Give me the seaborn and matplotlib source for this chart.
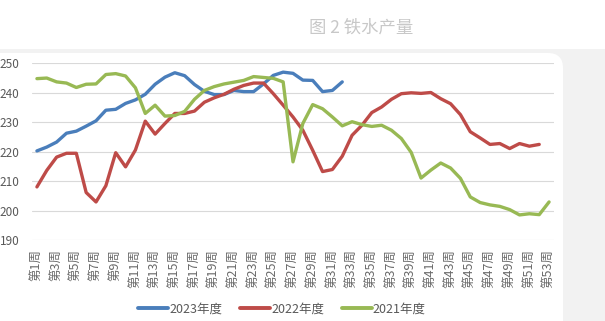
import matplotlib
matplotlib.use("Agg")
import matplotlib.pyplot as plt
from matplotlib.patches import Rectangle, FancyBboxPatch
import seaborn as sns
import pandas as pd

# ---- data ----
series_names = ["2023年度", "2022年度", "2021年度"]
v2023 = [220.3, 221.6, 223.3, 226.3, 227.0, 228.7, 230.5, 234.1, 234.4, 236.4,
         237.6, 239.5, 242.9, 245.3, 246.8, 245.8, 242.8, 240.5, 239.4, 239.4,
         240.8, 240.4, 240.4, 243.0, 245.9, 247.0, 246.6, 244.3, 244.2, 240.4,
         240.8, 243.7]
v2022 = [208.1, 213.7, 218.2, 219.5, 219.5, 206.2, 203.0, 208.5, 219.7, 214.9,
         220.6, 230.4, 226.0, 229.6, 233.0, 233.0, 233.8, 236.8, 238.3, 239.5,
         241.2, 242.5, 243.3, 243.3, 239.7, 235.8, 231.8, 227.3, 220.5, 213.3,
         214.0, 218.5, 225.6, 229.0, 233.3, 235.2, 237.8, 239.7, 240.0, 239.8,
         240.1, 238.0, 236.3, 232.6, 226.8, 224.7, 222.5, 222.8, 221.1, 222.8,
         221.9, 222.5]
v2021 = [244.8, 245.0, 243.7, 243.3, 241.8, 242.9, 243.0, 246.2, 246.5, 245.7,
         241.7, 233.0, 235.8, 232.1, 232.3, 233.7, 237.8, 240.8, 242.1, 243.0,
         243.6, 244.2, 245.5, 245.2, 244.9, 243.7, 216.6, 229.6, 236.0, 234.6,
         231.8, 228.8, 230.2, 229.2, 228.6, 229.0, 227.3, 224.5, 219.8, 211.1,
         213.8, 216.2, 214.5, 211.0, 204.7, 202.8, 202.0, 201.5, 200.4, 198.6,
         199.0, 198.7, 203.0]
weeks = list(range(1, 54))
tick_weeks = list(range(1, 54, 2))
tick_labels = [f"第{w}周" for w in tick_weeks]
title = "图 2 铁水产量"
colors = ["#4a7ebb", "#be4b48", "#98b954"]

rows = []
for name, vals in zip(series_names, [v2023, v2022, v2021]):
    for w, v in zip(weeks, vals):
        rows.append({"周": w, "产量": v, "年度": name})
df = pd.DataFrame(rows)

# ---- figure ----
sns.set_theme(style="white")
plt.rcParams['font.family'] = ['Noto Sans CJK SC', 'DejaVu Sans']

W, H = 605, 321
fig = plt.figure(figsize=(W / 100, H / 100), dpi=100, facecolor="white")

# gray band + white rounded panel
fig.patches.append(Rectangle((0, 0), 1, (H - 49) / H, transform=fig.transFigure,
                             facecolor="#f2f2f2", edgecolor="none", zorder=-3))
fig.patches.append(FancyBboxPatch((-20 / W, -20 / H), (563 + 20) / W, (H - 53 + 20) / H,
                                  boxstyle="round,pad=0,rounding_size=0.025",
                                  transform=fig.transFigure, facecolor="white",
                                  edgecolor="none", zorder=-2, mutation_aspect=W / H))

fig.text(361 / W, (H - 28) / H, title, ha="center", va="center",
         fontsize=12.5, color="#c8c8c8")

ax = fig.add_axes([32 / W, (H - 240.3) / H, 522 / W, 177 / H])
ax.set_facecolor("none")

sns.lineplot(data=df, x="周", y="产量", hue="年度", hue_order=series_names,
             palette=colors, linewidth=2.4, ax=ax, legend=True)

ax.set_xlim(0.5, 53.5)
ax.set_ylim(190, 250)
ax.set_yticks(range(190, 251, 10))
ax.set_xticks(tick_weeks)
ax.set_xticklabels(tick_labels, rotation=90, fontsize=9, color="#6a6a6a")
ax.tick_params(axis="y", labelsize=8.5, labelcolor="#595959", length=0, pad=9)
ax.tick_params(axis="x", length=0, pad=6)
ax.yaxis.grid(True, color="#d9d9d9", linewidth=0.8)
ax.xaxis.grid(False)
for s in ax.spines.values():
    s.set_visible(False)
ax.set_xlabel("")
ax.set_ylabel("")

handles, labels = ax.get_legend_handles_labels()
ax.legend_.remove()
for h in handles:
    h.set_linewidth(2.8)
fig.legend(handles, labels, loc="center", bbox_to_anchor=(282 / W, 12 / H),
           ncol=3, frameon=False, fontsize=9, handlelength=2.4,
           handletextpad=0.1, columnspacing=1.4, labelcolor="#595959")

fig.savefig("out.png", dpi=100, facecolor=fig.get_facecolor())
